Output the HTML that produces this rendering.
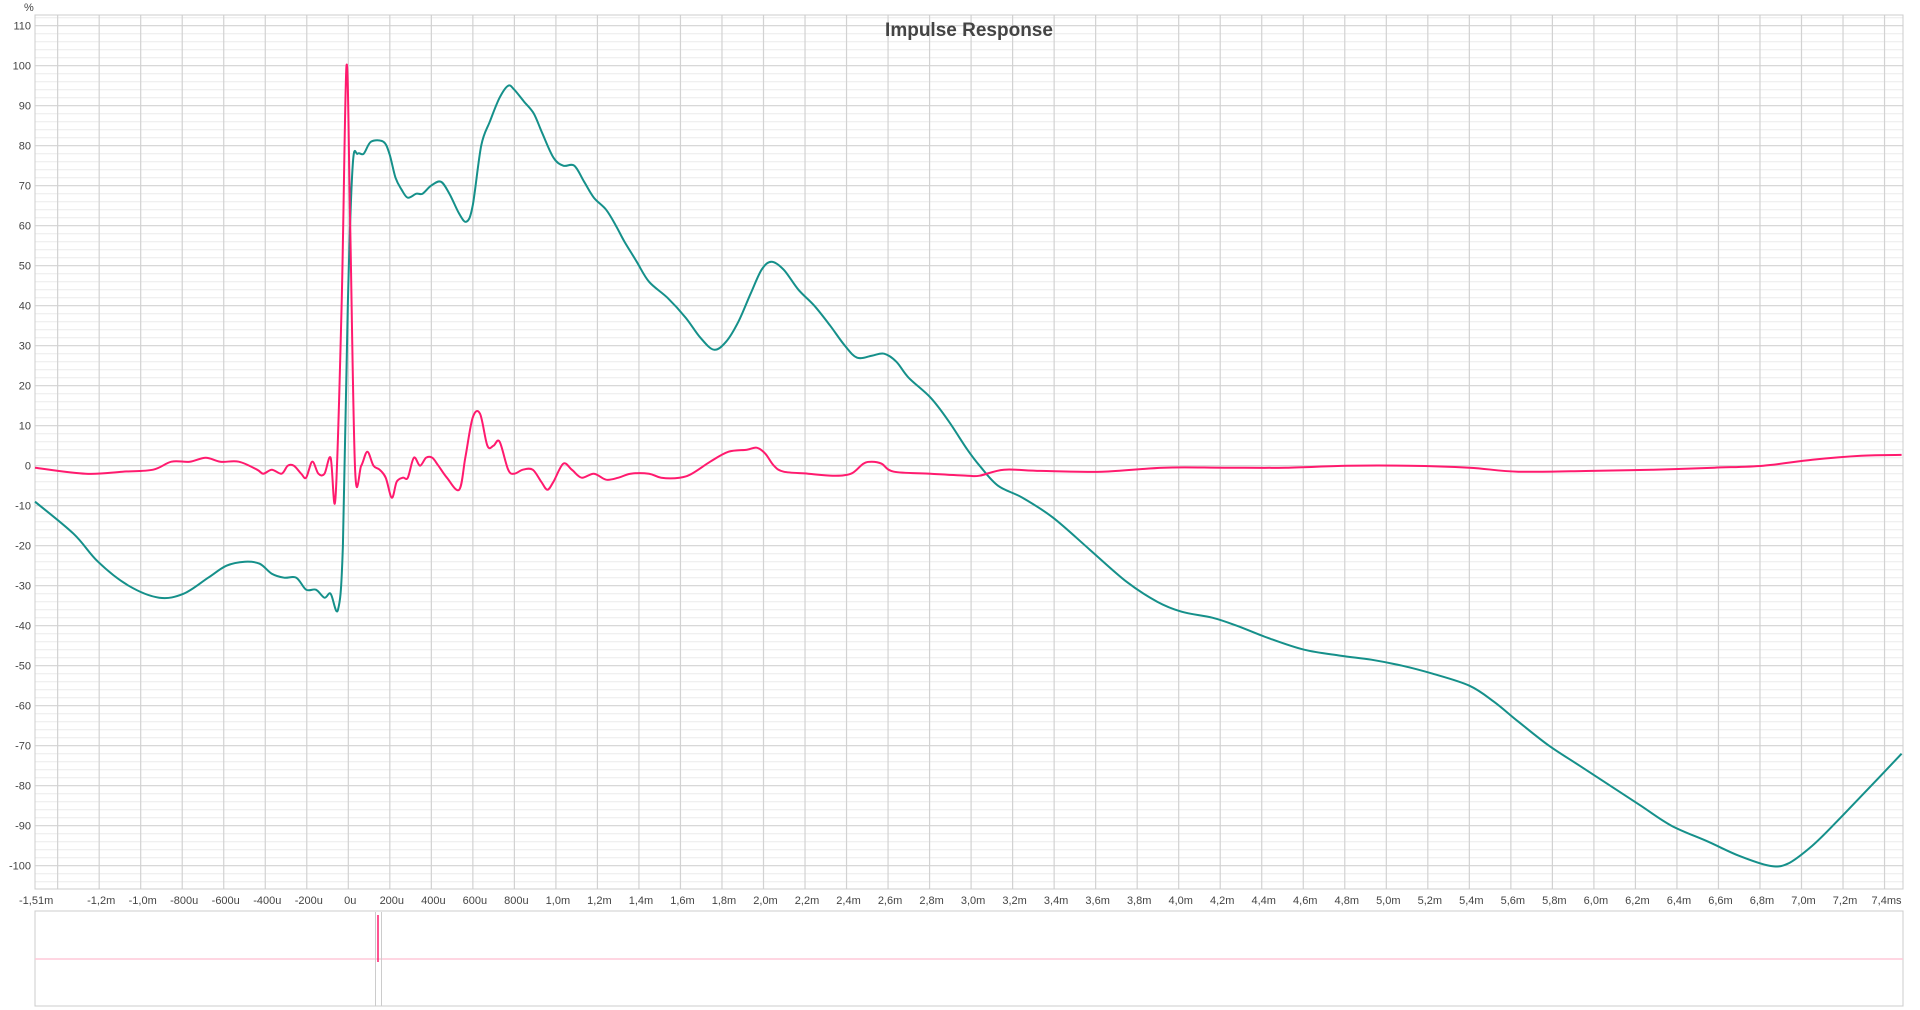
<!DOCTYPE html>
<html><head><meta charset="utf-8"><style>
html,body{margin:0;padding:0;background:#fff;}
svg{display:block;font-family:"Liberation Sans",sans-serif;}
</style></head><body>
<svg id="s" width="1920" height="1010" xmlns="http://www.w3.org/2000/svg">
<g id="grid"></g>
<text x="969" y="36" text-anchor="middle" font-size="19" font-weight="bold" fill="#444">Impulse Response</text>
<text x="24" y="11" font-size="11" fill="#444">%</text>
<g id="lab" font-size="11" fill="#444"></g>
<path id="teal" fill="none" stroke="#15908a" stroke-width="2"/>
<path id="pink" fill="none" stroke="#ff1a6e" stroke-width="2"/>
<rect x="35" y="911" width="1868" height="95" fill="none" stroke="#ccc"/>
<line x1="35" y1="959" x2="1903" y2="959" stroke="#ffc8d8" stroke-width="1.5"/>
<line x1="375.5" y1="912" x2="375.5" y2="1006" stroke="#ccc"/>
<line x1="381.5" y1="912" x2="381.5" y2="1006" stroke="#ccc"/>
<line x1="378" y1="915" x2="378" y2="962" stroke="#ff1a6e" stroke-width="1.5"/>
</svg>
<script>
var ns="http://www.w3.org/2000/svg",g=document.getElementById('grid'),lab=document.getElementById('lab');
function el(p,t,a,txt){var e=document.createElementNS(ns,t);for(var k in a)e.setAttribute(k,a[k]);if(txt)e.textContent=txt;p.appendChild(e);}
var L=35,R=1903,T=15,B=889;
function Y(v){return 465.7-4*v;}
function X(t){return 348.3+207.6*t;}
for(var v=-104;v<=112;v+=2){var y=Y(v);if(y<T||y>B)continue;
 var maj=v%10==0;el(g,'line',{x1:L,x2:R,y1:y,y2:y,stroke:maj?'#d2d2d2':'#ececec','stroke-width':maj?1.2:1});
 if(maj&&v<=110&&v>=-100)el(lab,'text',{x:31,y:y+4,'text-anchor':'end'},String(v));}
for(var i=-7;i<=37;i++){var t=i*0.2,x=X(t);if(x<L||x>R)continue;
 el(g,'line',{x1:x,x2:x,y1:T,y2:B,stroke:'#d2d2d2','stroke-width':1.2});
 if(i>=-6){var s;if(Math.abs(t)<1e-9)s='0u';else if(Math.abs(t)<0.99)s=Math.round(t*1000)+'u';else s=t.toFixed(1).replace('.',',')+'m';if(i==37)s='7,4ms';
 el(lab,'text',{x:x+2,y:904,'text-anchor':'middle'},s);}}
el(lab,'text',{x:19,y:904},'-1,51m');
el(g,'rect',{x:L,y:T,width:R-L,height:B-T,fill:'none',stroke:'#ccc'});
var tl=[28,-9,60,-17,80,-24,105,-30,130,-33,150,-32,170,-28,185,-25,200,-24,212,-24.5,222,-27,232,-28,242,-28,250,-31,258,-31,265,-33,270,-32,276,-36,280,-20,284,40,288,75,292,78,297,78,303,81,313,81,318,78,323,72,328,69,333,67,340,68,345,68,352,70,360,71,367,68,375,63,381,61,386,65,393,80,400,86,408,92,415,95,420,94,428,91,436,88,443,83,452,77,460,75,469,75,477,71,485,67,495,64,503,60,510,56,520,51,530,46,545,42,560,37,572,32,583,29,593,31,603,36,613,43,622,49,630,51,640,49,652,44,665,40,678,35,690,30,700,27,712,27.5,722,28,732,26,742,22,760,17,775,11,790,4,800,0,815,-5,835,-8,860,-13,890,-21,920,-29,945,-34,965,-36.5,990,-38,1010,-40,1035,-43,1065,-46,1095,-47.5,1120,-48.5,1145,-50,1170,-52,1200,-55,1220,-59,1240,-64,1265,-70,1290,-75,1315,-80,1340,-85,1365,-90,1395,-94,1420,-97.5,1445,-100,1460,-99.5,1480,-95,1500,-89,1525,-81,1553,-72];
var pk=[28,-0.5,70,-2,100,-1.5,125,-1,140,1,155,1,168,2,180,1,195,1,210,-1,215,-2,222,-1,230,-2,235,0,240,0,246,-2,250,-3,255,1,260,-2,265,-2,270,2,274,-8,279,40,283,100,286,60,290,-1,295,0,300,3.5,305,0,310,-1,315,-3,320,-8,324,-4,329,-3,333,-3,338,2,343,0,348,2,353,2,358,0,365,-3,375,-6,380,2,386,12,392,13,398,5,403,5,408,6,415,-1,420,-2,427,-1,435,-1,442,-4,447,-6,452,-4,460,0.5,467,-1,475,-3,485,-2,495,-3.5,505,-3,515,-2,530,-2,540,-3,555,-3,565,-2,580,1,595,3.5,610,4,618,4.5,625,3,632,0,640,-1.5,660,-2,680,-2.5,695,-2,705,0.5,712,1,720,0.5,730,-1.5,760,-2,790,-2.5,800,-2.5,820,-1,850,-1.3,900,-1.5,950,-0.5,1000,-0.5,1050,-0.5,1100,0,1150,0,1200,-0.5,1240,-1.5,1300,-1.3,1350,-1,1400,-0.5,1440,0,1480,1.5,1520,2.5,1553,2.7];
function path(a){var p=[];for(var i=0;i<a.length;i+=2)p.push([Math.max(L,Math.min(R,a[i]*1.2245)),Y(a[i+1])]);
 var d='M'+p[0][0].toFixed(1)+' '+p[0][1].toFixed(1);
 for(var i=0;i<p.length-1;i++){var p0=p[i-1]||p[i],p1=p[i],p2=p[i+1],p3=p[i+2]||p2;
  var c1=[p1[0]+(p2[0]-p0[0])/6,p1[1]+(p2[1]-p0[1])/6],c2=[p2[0]-(p3[0]-p1[0])/6,p2[1]-(p3[1]-p1[1])/6];
  d+='C'+c1[0].toFixed(1)+' '+c1[1].toFixed(1)+' '+c2[0].toFixed(1)+' '+c2[1].toFixed(1)+' '+p2[0].toFixed(1)+' '+p2[1].toFixed(1);}
 return d;}
document.getElementById('teal').setAttribute('d',path(tl));
document.getElementById('pink').setAttribute('d',path(pk));
</script>
</body></html>
